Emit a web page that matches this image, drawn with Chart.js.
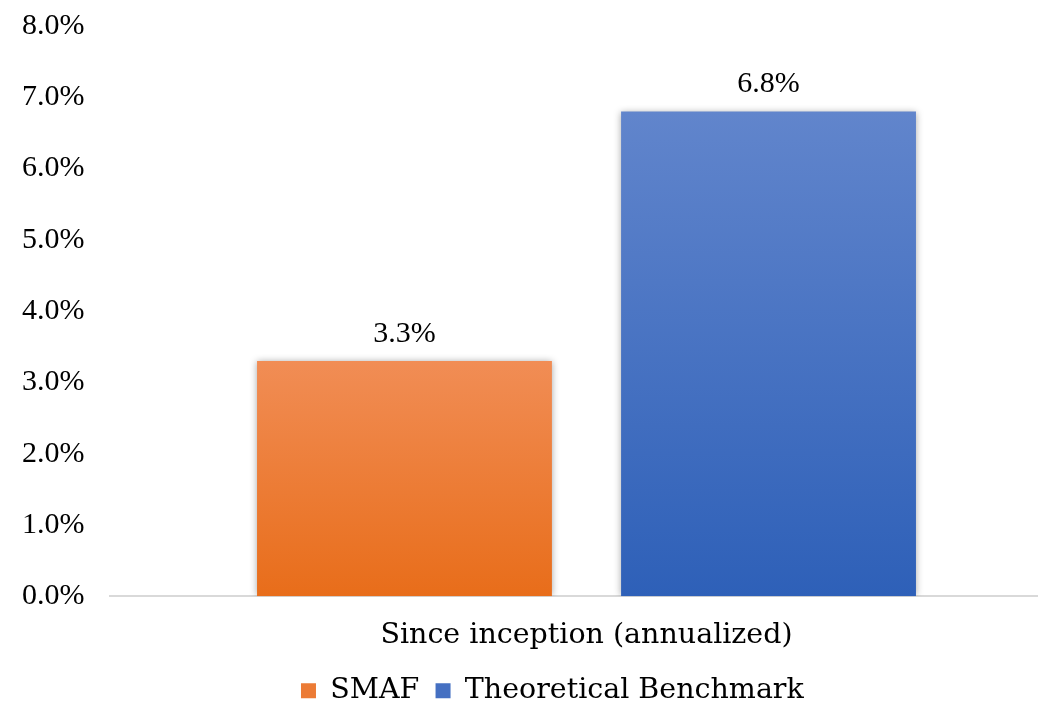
<!DOCTYPE html>
<html>
<head>
<meta charset="utf-8">
<script src="https://cdn.jsdelivr.net/npm/chart.js@4.4.1/dist/chart.umd.min.js"></script>
<style>
    html, body { margin: 0; padding: 0; background: #fff; overflow: hidden; }
    /* el area de trazado sigue un poco mas alla del borde derecho, como en el original */
    #wrap { width: 1064px; height: 702px; }
</style>
</head>
<body>
<div id="wrap"><canvas id="grafico"></canvas></div>
<script>
const categorias = ['Since inception (annualized)'];
const serieSMAF = [3.3];
const serieBenchmark = [6.8];
const nombresSeries = ['SMAF', 'Theoretical Benchmark'];
const ticksY = [0, 1, 2, 3, 4, 5, 6, 7, 8];

const FUENTE_NUM = "'Liberation Serif', 'DejaVu Serif', serif";
const FUENTE_TXT = "'DejaVu Serif', 'Liberation Serif', serif";
const COLORES = [
    { arriba: '#F18D55', abajo: '#E86D1A', legenda: '#EC7B35' },
    { arriba: '#6185CC', abajo: '#2E60B8', legenda: '#4570C2' }
];

// degradado por barra, de su tope a su base
function degradado(ctx, i) {
    const chart = ctx.chart;
    const y = chart.scales.y;
    if (!chart.chartArea || !y || !ctx.parsed) return COLORES[i].abajo;
    const tope = y.getPixelForValue(ctx.parsed.y);
    const base = y.getPixelForValue(0);
    const g = chart.ctx.createLinearGradient(0, tope, 0, base);
    g.addColorStop(0, COLORES[i].arriba);
    g.addColorStop(1, COLORES[i].abajo);
    return g;
}

// sombra suave detras de las barras
const sombraBarras = {
    id: 'sombraBarras',
    beforeDatasetsDraw(chart) {
        const c = chart.ctx;
        c.save();
        c.shadowColor = 'rgba(0,0,0,0.35)';
        c.shadowBlur = 7;
    },
    afterDatasetsDraw(chart) {
        chart.ctx.restore();
    }
};

// etiquetas de valor encima de cada barra
const etiquetasValor = {
    id: 'etiquetasValor',
    afterDatasetsDraw(chart) {
        const c = chart.ctx;
        c.save();
        c.font = '30px ' + FUENTE_NUM;
        c.fillStyle = '#000';
        c.textAlign = 'center';
        c.textBaseline = 'middle';
        chart.data.datasets.forEach((ds, i) => {
            chart.getDatasetMeta(i).data.forEach((bar, j) => {
                c.fillText(ds.data[j].toFixed(1) + '%', bar.x, bar.y - 27);
            });
        });
        c.restore();
    }
};

// la leyenda va algo a la derecha, como en el original
const moverLeyenda = {
    id: 'moverLeyenda',
    afterLayout(chart) {
        if (chart.legend) {
            chart.legend.left += 17;
            chart.legend.right += 17;
        }
    }
};

new Chart(document.getElementById('grafico').getContext('2d'), {
    type: 'bar',
    data: {
        labels: categorias,
        datasets: [{
            label: nombresSeries[0],
            data: serieSMAF,
            backgroundColor: ctx => degradado(ctx, 0),
            borderWidth: 0,
            barPercentage: 0.81,
            categoryPercentage: 0.764
        }, {
            label: nombresSeries[1],
            data: serieBenchmark,
            backgroundColor: ctx => degradado(ctx, 1),
            borderWidth: 0,
            barPercentage: 0.81,
            categoryPercentage: 0.764
        }]
    },
    options: {
        responsive: true,
        maintainAspectRatio: false,
        animation: false,
        layout: { padding: { left: 22, right: 1, top: 0, bottom: -13 } },
        scales: {
            y: {
                min: 0,
                max: 8,
                afterBuildTicks: axis => { axis.ticks = ticksY.map(v => ({ value: v })); },
                afterFit: axis => { axis.width = 88; },
                grid: { display: false, drawTicks: false },
                border: { display: false },
                ticks: {
                    padding: 8,
                    crossAlign: 'far',
                    color: '#000',
                    font: { family: FUENTE_NUM, size: 30 },
                    callback: v => v.toFixed(1) + '%'
                }
            },
            x: {
                grid: { display: false, drawTicks: false },
                border: { display: true, color: '#d9d9d9', width: 2 },
                ticks: {
                    padding: 22,
                    color: '#000',
                    font: { family: FUENTE_TXT, size: 28.5 }
                }
            }
        },
        plugins: {
            legend: {
                position: 'bottom',
                labels: {
                    color: '#000',
                    font: { family: FUENTE_TXT, size: 28.5 },
                    boxWidth: 15,
                    boxHeight: 15,
                    padding: 2,
                    generateLabels: chart => {
                        const items = Chart.defaults.plugins.legend.labels.generateLabels(chart);
                        items.forEach((it, i) => {
                            it.fillStyle = COLORES[i].legenda;
                            it.strokeStyle = COLORES[i].legenda;
                            it.lineWidth = 0;
                            it.text = it.text + '\u2002';
                        });
                        return items;
                    }
                }
            },
            tooltip: { enabled: false }
        }
    },
    plugins: [sombraBarras, etiquetasValor, moverLeyenda]
});
</script>
</body>
</html>
